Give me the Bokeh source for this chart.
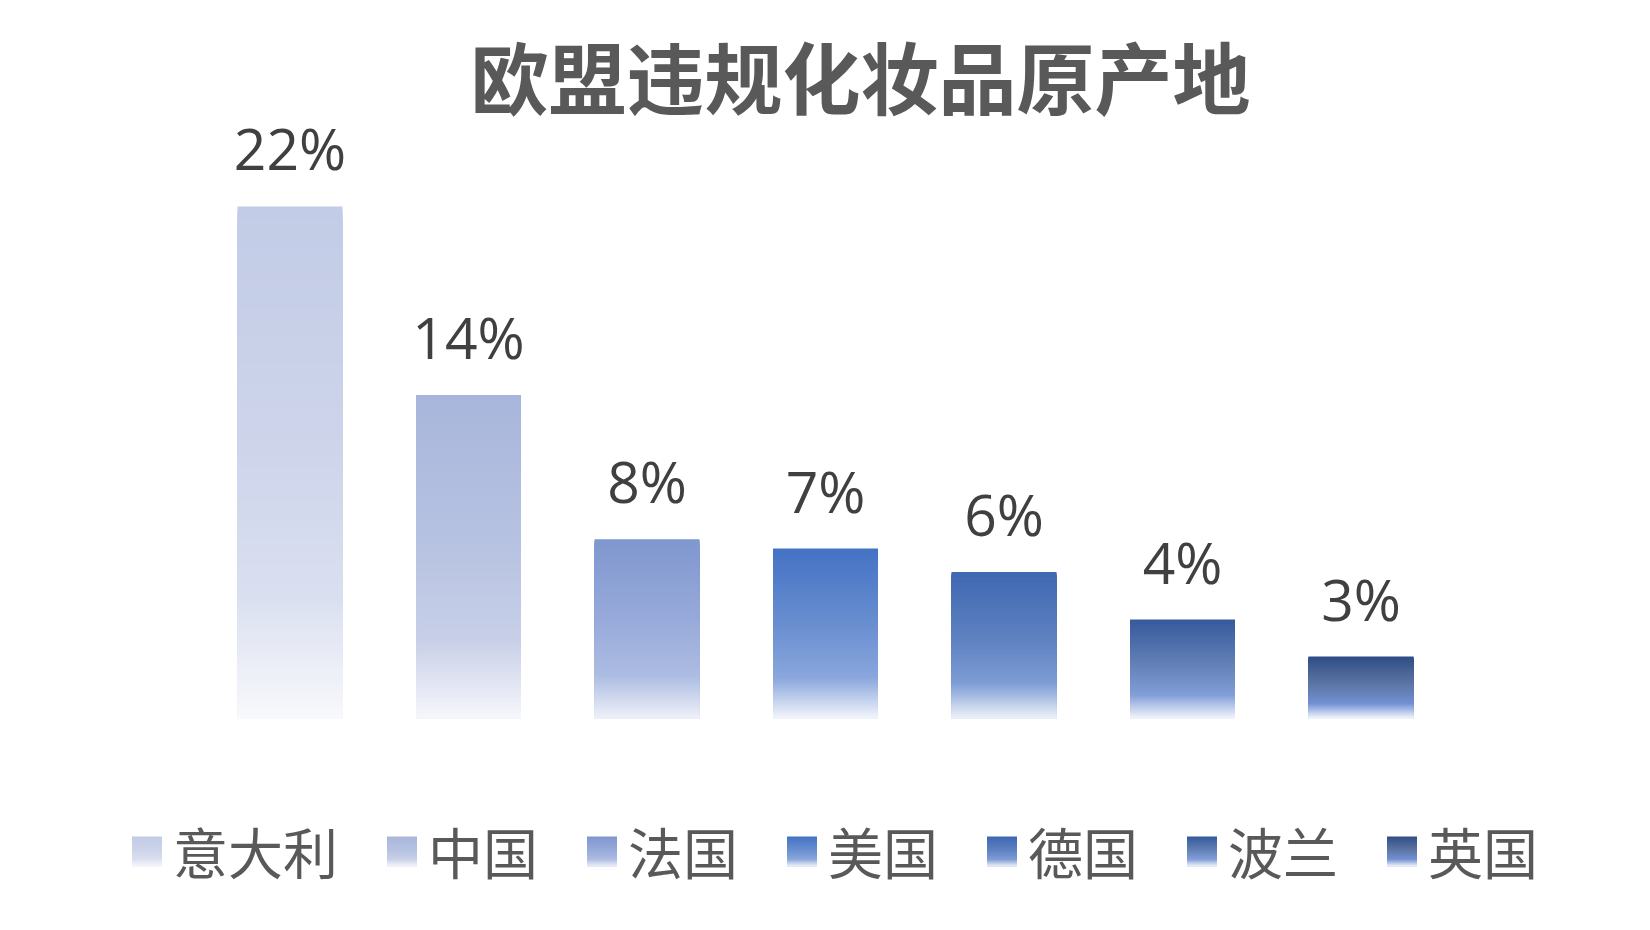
from bokeh.plotting import figure
from bokeh.models import Range1d, ColumnDataSource, LabelSet, LinearScale
from bokeh.core.properties import value
from bokeh.embed import file_html
from bokeh.resources import INLINE

# ---------------- data ----------------
title_text = "欧盟违规化妆品原产地"
countries = ["意大利", "中国", "法国", "美国", "德国", "波兰", "英国"]
shares = [0.220, 0.139, 0.077, 0.073, 0.063, 0.0425, 0.0266]

# gradient colours per bar: top, middle, start of fade, bottom
top_colors = ["#C2CCE6", "#A8B6DB", "#7F97CF", "#4472C4", "#3F68B2", "#365A9C", "#2F4E85"]
mid_colors = ["#CDD4EA", "#B6C2E1", "#98AADA", "#6A8FD1", "#5E81C0", "#6380B7", "#5E76A5"]
fade_colors = ["#DADFF0", "#C8D0E8", "#ADBCE2", "#8AA6DC", "#7E9CD5", "#819ED8", "#7391D3"]
base_colors = ["#F8F9FC", "#F6F7FB", "#EEF1F8", "#F2F5FB", "#EEF2F9", "#F3F6FC", "#F5F7FC"]

# ---------------- helpers ----------------
def h2r(h):
    return [int(h[i:i + 2], 16) for i in (1, 3, 5)]


def r2h(c):
    return "#%02x%02x%02x" % tuple(int(round(v)) for v in c)


def grad(stops, t):
    for (p0, c0), (p1, c1) in zip(stops, stops[1:]):
        if t <= p1:
            f = (t - p0) / (p1 - p0)
            a, b = h2r(c0), h2r(c1)
            return r2h([a[j] + (b[j] - a[j]) * f for j in range(3)])
    return stops[-1][1]


def stops_for(i):
    return [(0.0, top_colors[i]), (0.45, mid_colors[i]), (0.76, fade_colors[i]), (1.0, base_colors[i])]


N = 120
W, H = 1634, 914
n = len(countries)
pos = list(range(n))          # category slot of each country

p = figure(width=W, height=H,
           x_range=Range1d(-1.62185, 7.53221),
           y_range=Range1d(-0.08422, 0.30851),
           x_axis_location=None, y_axis_location=None,
           toolbar_location=None, output_backend="svg",
           min_border=0, outline_line_color=None,
           background_fill_color="white", border_fill_color="white")
p.grid.visible = False
p.extra_x_ranges = {"px": Range1d(0, W)}
p.extra_y_ranges = {"px": Range1d(H, 0)}
p.extra_x_scales = {"px": LinearScale()}
p.extra_y_scales = {"px": LinearScale()}

# ---------------- gradient bars ----------------
bx, btop, bcol = [], [], []
for i, v in enumerate(shares):
    st = stops_for(i)
    for k in range(N):
        bx.append(pos[i])
        btop.append(v * (1 - k / N))
        bcol.append(grad(st, (k + 0.5) / N))
p.vbar(x="x", top="top", bottom=0, width=0.588, fill_color="color", line_color=None,
       source=ColumnDataSource(dict(x=bx, top=btop, color=bcol)))

# ---------------- data labels ----------------
lab_src = ColumnDataSource(dict(x=pos, y=shares, label=[f"{v:.0%}" for v in shares]))
p.add_layout(LabelSet(x="x", y="y", text="label", source=lab_src, y_offset=36,
                      text_align="center", text_baseline="alphabetic",
                      text_font=value("Open Sans"), text_font_size=value("57px"),
                      text_color=value("#404040")))

# ---------------- title ----------------
p.text(x=[860], y=[74], text=[title_text], x_range_name="px", y_range_name="px",
       text_font=value("Noto Sans CJK SC"), text_font_size="78px", text_font_style="bold",
       text_color="#595959", text_align="center", text_baseline="middle")

# ---------------- legend ----------------
sw_left, sw_top, sw_size = 131.5, 836, 30
em = 55
sl, sr, st_, sb, scol = [], [], [], [], []
tx, ty = [], []
x = sw_left
for i, c in enumerate(countries):
    stp = stops_for(i)
    for k in range(40):
        sl.append(x)
        sr.append(x + sw_size)
        st_.append(sw_top + sw_size * k / 40)
        sb.append(sw_top + sw_size)
        scol.append(grad(stp, (k + 0.5) / 40))
    tx.append(x + 41)
    ty.append(849)
    x += sw_size + 43 + len(c) * em + 17
p.quad(left="l", right="r", top="t", bottom="b", fill_color="c", line_color=None,
       x_range_name="px", y_range_name="px",
       source=ColumnDataSource(dict(l=sl, r=sr, t=st_, b=sb, c=scol)))
p.text(x=tx, y=ty, text=countries, x_range_name="px", y_range_name="px",
       text_font=value("Noto Sans CJK SC"), text_font_size="55px",
       text_color="#595959", text_align="left", text_baseline="middle")

open("out.html", "w").write(file_html(p, INLINE))
